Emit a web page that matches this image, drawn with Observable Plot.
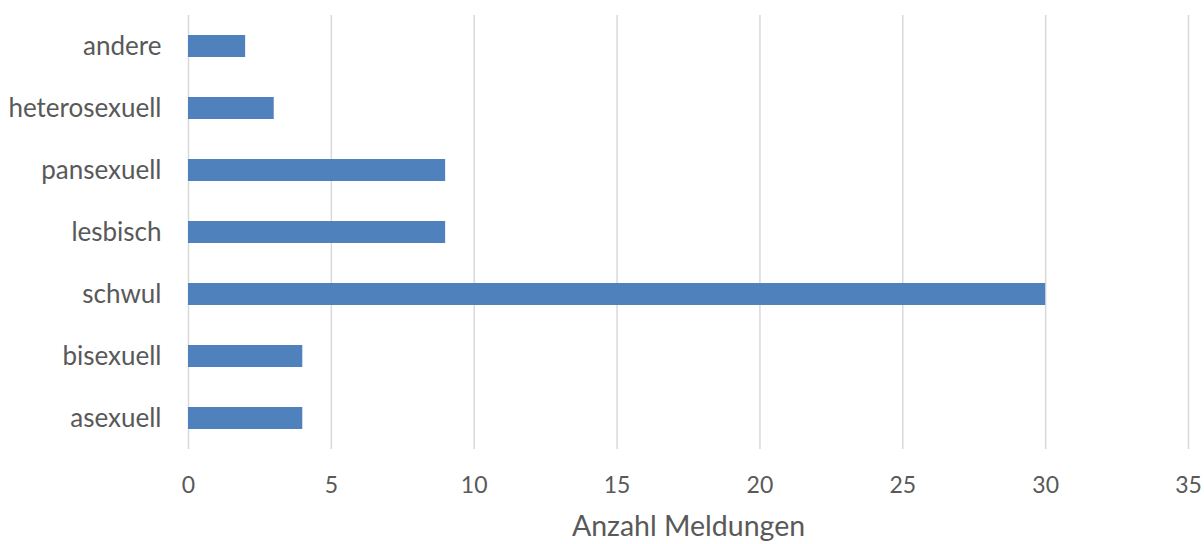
<!DOCTYPE html>
<html>
<head>
<meta charset="utf-8">
<script src="https://cdn.jsdelivr.net/npm/d3@7"></script>
<script src="https://cdn.jsdelivr.net/npm/@observablehq/plot@0.6"></script>
<style>
  html, body { margin: 0; padding: 0; background: #fff; }
  #chart g[aria-label="x-axis label"] text { font-size: 28.5px; }
</style>
</head>
<body>
<div id="chart"></div>
<script>
// Reports per sexual orientation, listed top to bottom
const categories = ["andere", "heterosexuell", "pansexuell", "lesbisch", "schwul", "bisexuell", "asexuell"];
const counts = [2, 3, 9, 9, 30, 4, 4];
const xTicks = [0, 5, 10, 15, 20, 25, 30, 35];
const xTitle = "Anzahl Meldungen";

const rows = categories.map((c, i) => ({category: c, count: counts[i]}));

const chart = Plot.plot({
  width: 1204,
  height: 544,
  marginTop: 15,
  marginBottom: 95,
  marginLeft: 188,
  marginRight: 16,
  style: {fontFamily: "Lato, 'Open Sans', sans-serif", color: "#595959", background: "#fff"},
  x: {domain: [0, 35]},
  y: {domain: categories, paddingInner: 0.645, paddingOuter: 0.3225},
  marks: [
    Plot.gridX(xTicks, {stroke: "#d9d9d9", strokeOpacity: 1, strokeWidth: 1.5}),
    Plot.barX(rows, {x: "count", y: "category", fill: "#4f81bd"}),
    Plot.axisX({
      ticks: xTicks,
      tickSize: 0,
      tickPadding: 27,
      fontSize: 23,
      label: xTitle,
      labelAnchor: "center",
      labelArrow: "none",
      labelOffset: 86
    }),
    Plot.axisY({tickSize: 0, tickPadding: 27, fontSize: 26, label: null})
  ]
});

document.getElementById("chart").appendChild(chart);
</script>
</body>
</html>
